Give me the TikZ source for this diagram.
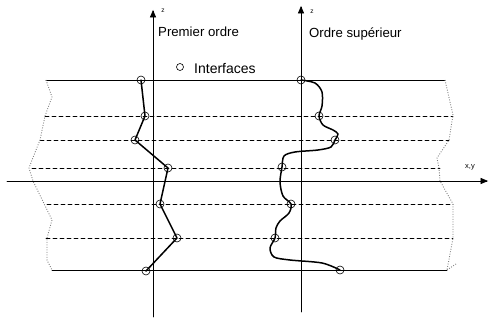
\documentclass[tikz,border=0pt]{standalone}
\usepackage{fontspec}
\setmainfont{Liberation Sans}
\usetikzlibrary{arrows}

\tikzset{
  interface/.style={circle,draw,line width=0.6pt,inner sep=0pt,minimum size=8pt},
  couche/.style={line width=0.8pt,dash pattern=on 4pt off 3pt},
  bord/.style={line width=0.9pt,gray,line cap=butt,dash pattern=on 0.9pt off 1.6pt},
  axe/.style={line width=0.7pt,->},
  profil/.style={line width=1.5pt},
  titre/.style={anchor=base west,inner sep=0pt,font=\fontsize{13.2}{15}\selectfont}
}

\begin{document}
\begin{tikzpicture}[x=1pt,y=-1pt,line cap=round,line join=round,>=triangle 45]
\useasboundingbox (0,0) rectangle (489,320);
% couches
\draw[line width=0.8pt] (46,80) -- (445,80);
\draw[couche] (45,116) -- (453,116);
\draw[couche] (40,140) -- (449,140);
\draw[couche] (32,168) -- (440,168);
\draw[couche] (47,204) -- (453,204);
\draw[couche] (46,238) -- (453,238);
\draw[line width=0.8pt] (52,270) -- (447,270);
% bords coupes
\draw[bord] (46,80) -- (52,97) -- (45,116) -- (40,140) -- (32,160) -- (29,168) -- (33,181) -- (52,220) -- (47,238) -- (47,260) -- (52,270);
\draw[bord] (445,80) -- (453,115) -- (449,140) -- (437,158) -- (439,168) -- (440,181) -- (453,204) -- (453,238) -- (447,270);
\draw[bord] (447,270) -- (456,264);
% axes
\coordinate (xy0) at (7,181);
\coordinate (xy1) at (488,181);
\draw[axe] (xy0) -- (xy1);
\node[font=\fontsize{7.5}{8}\selectfont] (lxy) at (470,167) {x,y};
\coordinate (zg0) at (153,317);
\coordinate (zg1) at (153,10);
\draw[axe] (zg0) -- (zg1);
\node[font=\fontsize{6.5}{7}\selectfont] (lzg) at (163,11) {z};
\coordinate (zd0) at (301,312);
\coordinate (zd1) at (301,6);
\draw[axe] (zd0) -- (zd1);
\node[font=\fontsize{6.5}{7}\selectfont] (lzd) at (312,12) {z};
% titres
\node[titre] (premier) at (158,37) {Premier ordre};
\node[titre] (superieur) at (309,38) {Ordre supérieur};
\node[interface,minimum size=7pt] (leg) at (180,67) {};
\node[anchor=base west,inner sep=0pt,font=\fontsize{14}{16}\selectfont] (interfaces) at (194,74) {Interfaces};
% premier ordre
\foreach \n/\x/\y in {1/141/80,2/145/116,3/135/140,4/168/168,5/160/204,6/177/238,7/146/271}
  \node[interface] (g\n) at (\x,\y) {};
\draw[profil] (g1.center) -- (g2.center) -- (g3.center) -- (g4.center) -- (g5.center) -- (g6.center) -- (g7.center);
% ordre superieur
\foreach \n/\x/\y in {1/301/80,2/319/116,3/335/140,4/282/167,5/291/204,6/275/238,7/340/270}
  \node[interface] (r\n) at (\x,\y) {};
\draw[profil] plot[smooth,tension=0.5] coordinates {(r1.center) (315,83) (322,92) (322,106) (r2.center) (323,125) (333,130) (338,134) (r3.center) (331,147) (318,150) (295,152) (284,156) (r4.center) (280,182) (283,196) (r5.center) (289,213) (280,221) (276,228) (r6.center) (270,248) (274,257) (290,260) (322,263) (r7.center)};
\end{tikzpicture}
\end{document}
